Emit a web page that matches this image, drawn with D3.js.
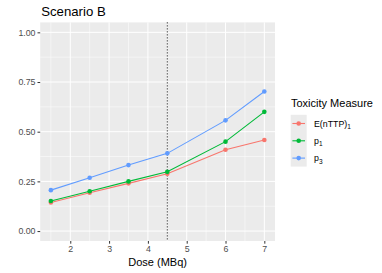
<!DOCTYPE html>
<html><head><meta charset="utf-8">
<script src="https://cdn.jsdelivr.net/npm/d3@7"></script>
<style>body{margin:0;background:#fff}text{font-family:"Liberation Sans",Arial,sans-serif}</style>
</head><body><svg id="c" width="382" height="273"></svg>
<script>
const doses = [1.5, 2.5, 3.5, 4.5, 6, 7];
const seriesNames = ["E(nTTP)1", "p1", "p3"];
const eNTTP = [0.144, 0.193, 0.240, 0.288, 0.409, 0.458];
const p1 = [0.151, 0.200, 0.250, 0.298, 0.450, 0.600];
const p3 = [0.206, 0.268, 0.332, 0.391, 0.557, 0.702];
const xTicks = [2, 3, 4, 5, 6, 7];
const xMinor = [1.5, 2.5, 3.5, 4.5, 5.5, 6.5];
const yTicks = [0, 0.25, 0.5, 0.75, 1];
const yMinor = [0.125, 0.375, 0.625, 0.875];
const vlineDose = 4.5;
const colors = ["#F8766D", "#00BA38", "#619CFF"];

const svg = d3.select("#c");
const L = 40.2, R = 275, T = 22.4, B = 241;
const x = d3.scaleLinear().domain([1.225, 7.275]).range([L, R]);
const y = d3.scaleLinear().domain([-0.05, 1.05]).range([B, T]);

svg.append("rect").attr("x", L).attr("y", T).attr("width", R - L).attr("height", B - T).attr("fill", "#EBEBEB");
const g = svg.append("g");
xMinor.forEach(v => g.append("line").attr("x1", x(v)).attr("x2", x(v)).attr("y1", T).attr("y2", B).attr("stroke", "#fff").attr("stroke-width", 0.5));
yMinor.forEach(v => g.append("line").attr("y1", y(v)).attr("y2", y(v)).attr("x1", L).attr("x2", R).attr("stroke", "#fff").attr("stroke-width", 0.5));
xTicks.forEach(v => g.append("line").attr("x1", x(v)).attr("x2", x(v)).attr("y1", T).attr("y2", B).attr("stroke", "#fff").attr("stroke-width", 1));
yTicks.forEach(v => g.append("line").attr("y1", y(v)).attr("y2", y(v)).attr("x1", L).attr("x2", R).attr("stroke", "#fff").attr("stroke-width", 1));

// axes
const xa = svg.append("g").attr("transform", `translate(0,${B})`).call(d3.axisBottom(x).tickValues(xTicks).tickSize(2.7).tickPadding(2).tickFormat(d3.format("d")));
const ya = svg.append("g").attr("transform", `translate(${L},0)`).call(d3.axisLeft(y).tickValues(yTicks).tickSize(2.7).tickPadding(2).tickFormat(d3.format(".2f")));
[xa, ya].forEach(a => {
  a.select(".domain").remove();
  a.selectAll(".tick line").attr("stroke", "#333");
  a.selectAll(".tick text").attr("fill", "#4D4D4D").style("font-size", "8.8px").style("font-family", "Liberation Sans, Arial, sans-serif");
});

// vline
svg.append("line").attr("x1", x(vlineDose)).attr("x2", x(vlineDose)).attr("y1", T).attr("y2", B)
  .attr("stroke", "#000").attr("stroke-width", 1).attr("stroke-dasharray", "1,2");

const data = [eNTTP, p1, p3];
const line = d3.line().x((d, i) => x(doses[i])).y(d => y(d));
data.forEach((s, k) => {
  svg.append("path").datum(s).attr("d", line).attr("fill", "none").attr("stroke", colors[k]).attr("stroke-width", 1.1);
  svg.selectAll(null).data(s).enter().append("circle").attr("cx", (d, i) => x(doses[i])).attr("cy", d => y(d)).attr("r", 2.3).attr("fill", colors[k]);
});

// titles
svg.append("text").attr("x", L + 1).attr("y", 16).attr("font-size", 13.2).attr("fill", "#000").text("Scenario B");
svg.append("text").attr("x", (L + R) / 2).attr("y", 266).attr("text-anchor", "middle").attr("font-size", 11).attr("fill", "#000").text("Dose (MBq)");

// legend
const lg = svg.append("g");
lg.append("text").attr("x", 291).attr("y", 107).attr("font-size", 11).attr("fill", "#000").text("Toxicity Measure");
const rowY = [123.5, 140.8, 158.1];
lg.append("rect").attr("x", 290.7).attr("y", 114.8).attr("width", 16).attr("height", 51.8).attr("fill", "#EBEBEB");
const labels = [["E(nTTP)", "1"], ["p", "1"], ["p", "3"]];
rowY.forEach((yy, k) => {
  lg.append("line").attr("x1", 292.4).attr("x2", 305).attr("y1", yy).attr("y2", yy).attr("stroke", colors[k]).attr("stroke-width", 1.1);
  lg.append("circle").attr("cx", 298.7).attr("cy", yy).attr("r", 2.3).attr("fill", colors[k]);
  const t = lg.append("text").attr("x", 314).attr("y", yy + 3).attr("font-size", 8.8).attr("fill", "#000");
  t.append("tspan").text(labels[k][0]);
  t.append("tspan").attr("dy", 2.5).attr("font-size", 6.5).text(labels[k][1]);
});
</script></body></html>
